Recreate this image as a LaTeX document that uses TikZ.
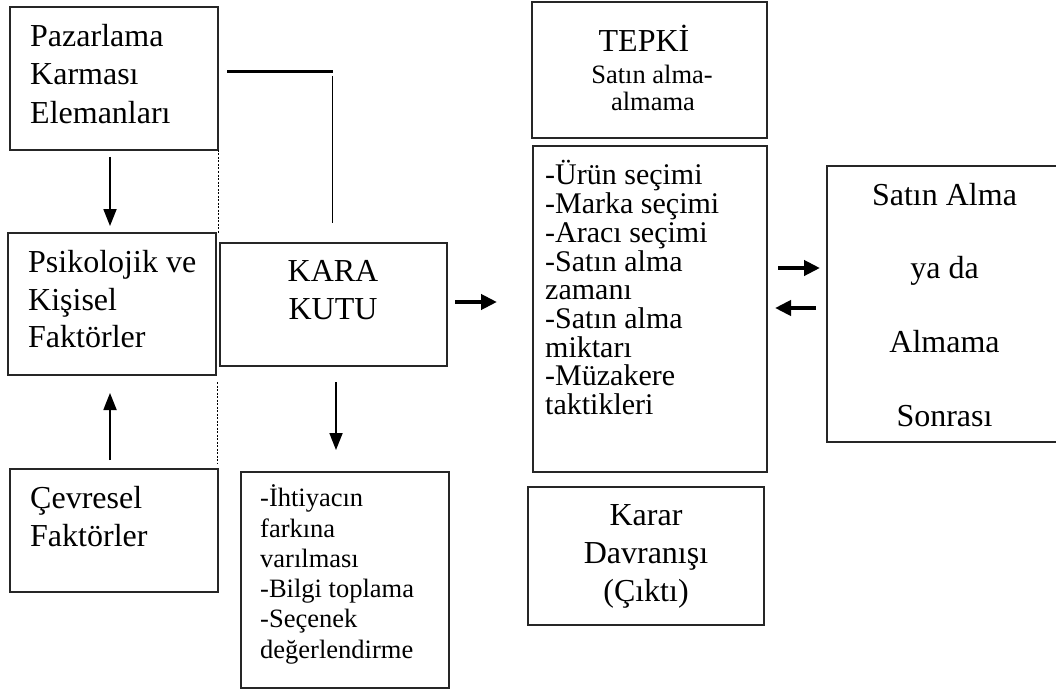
\documentclass[tikz,border=0pt]{standalone}
\usepackage{fontspec}
\setmainfont{Liberation Serif}
\usetikzlibrary{arrows.meta}
\begin{document}
\begin{tikzpicture}[x=1pt, y=-1pt,
  box/.style={draw=black!85, line width=1.3pt, inner sep=0pt, outer sep=0pt, anchor=north west},
  big/.style={font=\fontsize{32}{38}\selectfont, inner sep=0pt},
  mid/.style={font=\fontsize{30}{36}\selectfont, inner sep=0pt},
  small/.style={font=\fontsize{26.5}{31}\selectfont, inner sep=0pt},
  varrow/.style={line width=1.8pt, -{Triangle[length=17pt,width=13pt]}},
  harrow/.style={line width=4pt, -{Triangle[length=16pt,width=15pt]}},
  dashline/.style={line width=0.8pt, dash pattern=on 2pt off 1.5pt},
]
\useasboundingbox (0,0) rectangle (1056,695);

% frames
\node[box, minimum width=208pt, minimum height=143pt] (A) at (10,7) {};
\node[box, minimum width=208pt, minimum height=142pt] (B) at (8,233) {};
\node[box, minimum width=227pt, minimum height=123pt] (K) at (220,243) {};
\node[box, minimum width=208pt, minimum height=123pt] (C) at (10,469) {};
\node[box, minimum width=208pt, minimum height=216pt] (D) at (241,472) {};
\node[box, minimum width=235pt, minimum height=136pt] (T) at (532,2) {};
\node[box, minimum width=234pt, minimum height=326pt] (F) at (533,146) {};
\node[box, minimum width=236pt, minimum height=138pt] (G) at (528,487) {};
\node[box, minimum width=240pt, minimum height=276pt] (H) at (827,166) {};

% box texts
\foreach \t [count=\i] in {Pazarlama, Karması, Elemanları}
  \node[big, anchor=base west] (tA\i) at (30, {46.7+38.3*(\i-1)}) {\t};
\foreach \t [count=\i] in {Psikolojik ve, Kişisel, Faktörler}
  \node[big, anchor=base west] (tB\i) at (28, {272.3+37.7*(\i-1)}) {\t};
\foreach \t [count=\i] in {KARA, KUTU}
  \node[big, anchor=base] (tK\i) at (333, {281+38*(\i-1)}) {\t};
\foreach \t [count=\i] in {Çevresel, Faktörler}
  \node[big, anchor=base west] (tC\i) at (30, {508+38*(\i-1)}) {\t};
\foreach \t [count=\i] in {-İhtiyacın, farkına, varılması, -Bilgi toplama, -Seçenek, değerlendirme}
  \node[small, anchor=base west] (tD\i) at (260, {506.7+30.3*(\i-1)}) {\t};
\node[big, anchor=base] (tT1) at (644,51.7) {TEPKİ};
\node[small, anchor=base] (tT2) at (652,83.3) {Satın alma-};
\node[small, anchor=base] (tT3) at (653,111) {almama};
\foreach \t [count=\i] in {-Ürün seçimi, -Marka seçimi, -Aracı seçimi, -Satın alma, zamanı, -Satın alma, miktarı, -Müzakere, taktikleri}
  \node[mid, anchor=base west] (tF\i) at (545, {185+28.7*(\i-1)}) {\t};
\foreach \t [count=\i] in {Karar, Davranışı, {(Çıktı)}}
  \node[big, anchor=base] (tG\i) at (646, {525+38.3*(\i-1)}) {\t};
\foreach \t [count=\i] in {Satın Alma, ya da, Almama, Sonrası}
  \node[big, anchor=base] (tH\i) at (944.5, {205+73.9*(\i-1)}) {\t};

% connector end points
\coordinate (pA) at (110,157);   \coordinate (pB) at (110,226);
\coordinate (pC) at (110,460);   \coordinate (pB2) at (110,393);
\coordinate (pK) at (336,382);   \coordinate (pD) at (336,450);
\coordinate (pK2) at (455,302);  \coordinate (pF) at (497,302);
\coordinate (pF2) at (778,268);  \coordinate (pH) at (820,268);
\coordinate (pH2) at (816,308);  \coordinate (pF3) at (775,308);
\coordinate (l1) at (227,71.7);  \coordinate (l2) at (333,71.7);
\coordinate (l3) at (332.7,76);  \coordinate (l4) at (332.7,223);

% arrows
\draw[varrow] (pA) -- (pB);
\draw[varrow] (pC) -- (pB2);
\draw[varrow] (pK) -- (pD);
\draw[harrow] (pK2) -- (pF);
\draw[harrow] (pF2) -- (pH);
\draw[harrow] (pH2) -- (pF3);

% plain lines
\draw[line width=2.6pt] (l1) -- (l2);
\draw[line width=1.3pt] (l3) -- (l4);
\draw[dashline] (A.south east) -- (A.south east |- B.north);
\draw[dashline] (217,382) coordinate (d3) -- (217,463) coordinate (d4);
\end{tikzpicture}
\end{document}
